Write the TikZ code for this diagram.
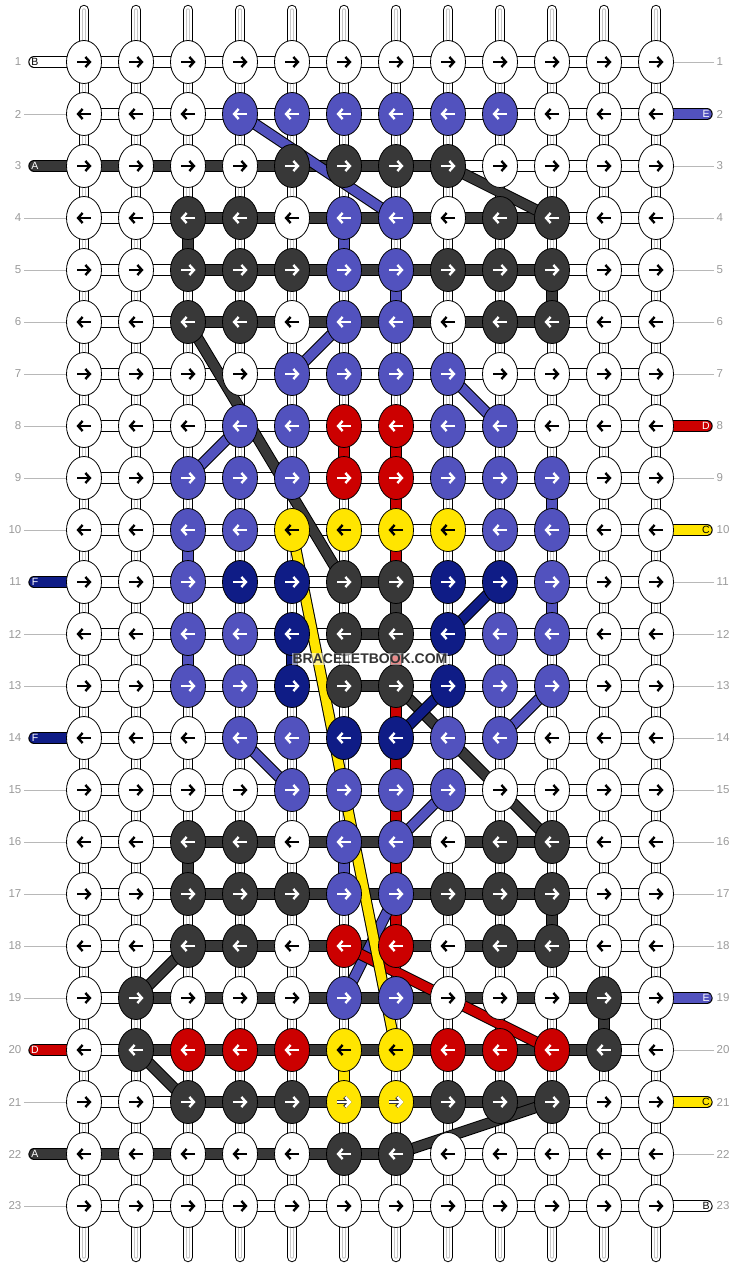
\documentclass[tikz,border=0pt]{standalone}
\usepackage{fontspec}
\setmainfont{Liberation Sans}
\usetikzlibrary{shapes.geometric,arrows.meta}
\definecolor{kblue}{HTML}{5252BE}
\definecolor{kdark}{HTML}{383838}
\definecolor{kred}{HTML}{CC0000}
\definecolor{kyellow}{HTML}{FFE500}
\definecolor{knavy}{HTML}{0F1C86}
\definecolor{rownum}{HTML}{9A9A9A}
\pgfdeclarelayer{strings}
\pgfdeclarelayer{cords}
\pgfdeclarelayer{cross}
\pgfsetlayers{strings,cords,cross,main}
\tikzset{
  arrcol/.initial=black,
  arredge/.initial=none,
  arrline/.style={line width=2.4pt, -{Straight Barb[length=4.5pt,width=10pt]}},
  knot/.style={ellipse, draw=black, line width=0.8pt, minimum width=35pt,
    minimum height=43pt, inner sep=0pt},
  kW/.style={knot, fill=white, arrcol=black},
  kB/.style={knot, fill=kblue, arrcol=white},
  kD/.style={knot, fill=kdark, arrcol=white},
  kR/.style={knot, fill=kred, arrcol=white},
  kY/.style={knot, fill=kyellow, arrcol=black},
  kYw/.style={knot, fill=kyellow, arrcol=white, arredge=black!80},
  kN/.style={knot, fill=knavy, arrcol=white},
  toR/.style={path picture={
    \draw[arrline, draw=\pgfkeysvalueof{/tikz/arredge}, line width=3.6pt]
      ([xshift=-7pt]path picture bounding box.center) -- ([xshift=7.5pt]path picture bounding box.center);
    \draw[arrline, draw=\pgfkeysvalueof{/tikz/arrcol}]
      ([xshift=-7pt]path picture bounding box.center) -- ([xshift=7.5pt]path picture bounding box.center);}},
  toL/.style={path picture={
    \draw[arrline, draw=\pgfkeysvalueof{/tikz/arredge}, line width=3.6pt]
      ([xshift=7pt]path picture bounding box.center) -- ([xshift=-7.5pt]path picture bounding box.center);
    \draw[arrline, draw=\pgfkeysvalueof{/tikz/arrcol}]
      ([xshift=7pt]path picture bounding box.center) -- ([xshift=-7.5pt]path picture bounding box.center);}},
  vstr/.style={draw=black, line width=10.4pt, line cap=round,
    postaction={draw=white, line width=8.4pt, line cap=round},
    postaction={draw=black!22, line width=3.2pt, line cap=round},
    postaction={draw=white, line width=1.2pt, line cap=round}},
  hstr/.style={draw=black, line width=11.4pt, postaction={draw=white, line width=9.4pt}},
  cord/.style={draw=black, line width=11.4pt, postaction={draw=#1, line width=9.4pt}},
  pill/.style={draw=black, line width=11.4pt, line cap=round,
    postaction={draw=#1, line width=9.4pt, line cap=round}},
  plet/.style={font=\fontsize{10.5}{10.5}\selectfont, inner sep=0pt, text=#1},
  rnum/.style={font=\fontsize{11.5}{12}\selectfont, text=rownum, inner sep=2.5pt},
  tick/.style={draw=black!28, line width=0.8pt},
  wmark/.style={font=\bfseries\fontsize{14}{14}\selectfont, text=black!80,
    fill=white, fill opacity=0.55, text opacity=1, inner sep=1pt}
}
\begin{document}
\begin{tikzpicture}[x=1pt,y=-1pt]
  \useasboundingbox (0,0) rectangle (740,1268);
  % knots, one line per row
  \foreach \rw/\dir/\cols in {
    1/toR/{kW,kW,kW,kW,kW,kW,kW,kW,kW,kW,kW,kW},
    2/toL/{kW,kW,kW,kB,kB,kB,kB,kB,kB,kW,kW,kW},
    3/toR/{kW,kW,kW,kW,kD,kD,kD,kD,kW,kW,kW,kW},
    4/toL/{kW,kW,kD,kD,kW,kB,kB,kW,kD,kD,kW,kW},
    5/toR/{kW,kW,kD,kD,kD,kB,kB,kD,kD,kD,kW,kW},
    6/toL/{kW,kW,kD,kD,kW,kB,kB,kW,kD,kD,kW,kW},
    7/toR/{kW,kW,kW,kW,kB,kB,kB,kB,kW,kW,kW,kW},
    8/toL/{kW,kW,kW,kB,kB,kR,kR,kB,kB,kW,kW,kW},
    9/toR/{kW,kW,kB,kB,kB,kR,kR,kB,kB,kB,kW,kW},
    10/toL/{kW,kW,kB,kB,kY,kY,kY,kY,kB,kB,kW,kW},
    11/toR/{kW,kW,kB,kN,kN,kD,kD,kN,kN,kB,kW,kW},
    12/toL/{kW,kW,kB,kB,kN,kD,kD,kN,kB,kB,kW,kW},
    13/toR/{kW,kW,kB,kB,kN,kD,kD,kN,kB,kB,kW,kW},
    14/toL/{kW,kW,kW,kB,kB,kN,kN,kB,kB,kW,kW,kW},
    15/toR/{kW,kW,kW,kW,kB,kB,kB,kB,kW,kW,kW,kW},
    16/toL/{kW,kW,kD,kD,kW,kB,kB,kW,kD,kD,kW,kW},
    17/toR/{kW,kW,kD,kD,kD,kB,kB,kD,kD,kD,kW,kW},
    18/toL/{kW,kW,kD,kD,kW,kR,kR,kW,kD,kD,kW,kW},
    19/toR/{kW,kD,kW,kW,kW,kB,kB,kW,kW,kW,kD,kW},
    20/toL/{kW,kD,kR,kR,kR,kY,kY,kR,kR,kR,kD,kW},
    21/toR/{kW,kW,kD,kD,kD,kYw,kYw,kD,kD,kD,kW,kW},
    22/toL/{kW,kW,kW,kW,kW,kD,kD,kW,kW,kW,kW,kW},
    23/toR/{kW,kW,kW,kW,kW,kW,kW,kW,kW,kW,kW,kW}}
    \foreach \k [count=\c] in \cols
      \node[\k,\dir] (\rw-\c) at ({84+52*(\c-1)},{62+52*(\rw-1)}) {};
  % row numbers
  \foreach \rw in {1,...,23} {
    \node[rnum, anchor=east] (nL-\rw) at (24,{62+52*(\rw-1)}) {\rw};
    \node[rnum, anchor=west] (nR-\rw) at (714,{62+52*(\rw-1)}) {\rw};
  }
  \node[wmark] (wm) at (370,659) {BRACELETBOOK.COM};
  % white base strings
  \begin{pgfonlayer}{strings}
    \foreach \c in {1,...,12} {
      \coordinate (t-\c) at ({84+52*(\c-1)},10);
      \coordinate (u-\c) at ({84+52*(\c-1)},1257);
      \draw[vstr] (t-\c) -- (u-\c);
    }
    \foreach \rw in {1,...,23}
      \draw[hstr] (\rw-1.center) -- (\rw-12.center);
  \end{pgfonlayer}
  % coloured runs, pills and ticks
  \begin{pgfonlayer}{cords}
    \foreach \rw in {2,4,5,6,7,8,9,10,12,13,15,16,17,18,19,21,23}
      \draw[tick] (nL-\rw) -- (\rw-1);
    \foreach \rw in {1,3,4,5,6,7,9,11,12,13,14,15,16,17,18,20,22}
      \draw[tick] (nR-\rw) -- (\rw-12);
    \coordinate (pL-1) at (34,62);
    \coordinate (pL-3) at (34,166);
    \coordinate (pL-11) at (34,582);
    \coordinate (pL-14) at (34,738);
    \coordinate (pL-20) at (34,1050);
    \coordinate (pL-22) at (34,1154);
    \coordinate (pR-2) at (707,114);
    \coordinate (pR-8) at (707,426);
    \coordinate (pR-10) at (707,530);
    \coordinate (pR-19) at (707,998);
    \coordinate (pR-21) at (707,1102);
    \coordinate (pR-23) at (707,1206);
    \draw[pill=white] (pL-1) -- (1-1.center);
    \draw[pill=kdark] (pL-3) -- (3-1.center);
    \draw[pill=knavy] (pL-11) -- (11-1.center);
    \draw[pill=knavy] (pL-14) -- (14-1.center);
    \draw[pill=kred] (pL-20) -- (20-1.center);
    \draw[pill=kdark] (pL-22) -- (22-1.center);
    \draw[pill=kblue] (pR-2) -- (2-12.center);
    \draw[pill=kred] (pR-8) -- (8-12.center);
    \draw[pill=kyellow] (pR-10) -- (10-12.center);
    \draw[pill=kblue] (pR-19) -- (19-12.center);
    \draw[pill=kyellow] (pR-21) -- (21-12.center);
    \draw[pill=white] (pR-23) -- (23-12.center);
    % dark runs
    \draw[cord=kdark] (3-1.center) -- (3-8.center);
    \draw[cord=kdark] (4-3.center) -- (4-10.center);
    \draw[cord=kdark] (5-3.center) -- (5-10.center);
    \draw[cord=kdark] (6-3.center) -- (6-10.center);
    \draw[cord=kdark] (11-6.center) -- (11-7.center);
    \draw[cord=kdark] (12-6.center) -- (12-7.center);
    \draw[cord=kdark] (13-6.center) -- (13-7.center);
    \draw[cord=kdark] (16-3.center) -- (16-10.center);
    \draw[cord=kdark] (17-3.center) -- (17-10.center);
    \draw[cord=kdark] (18-3.center) -- (18-10.center);
    \draw[cord=kdark] (19-2.center) -- (19-11.center);
    \draw[cord=kdark] (20-2.center) -- (20-11.center);
    \draw[cord=kdark] (21-3.center) -- (21-10.center);
    \draw[cord=kdark] (22-1.center) -- (22-7.center);
    \draw[cord=kdark] (4-3.center) -- (5-3.center);
    \draw[cord=kdark] (5-10.center) -- (6-10.center);
    \draw[cord=kdark] (11-7.center) -- (12-7.center);
    \draw[cord=kdark] (16-3.center) -- (17-3.center);
    \draw[cord=kdark] (17-10.center) -- (18-10.center);
    \draw[cord=kdark] (19-11.center) -- (20-11.center);
    % blue runs
    \draw[cord=kblue] (4-6.center) -- (5-6.center);
    \draw[cord=kblue] (5-7.center) -- (6-7.center);
    \draw[cord=kblue] (9-10.center) -- (10-10.center);
    \draw[cord=kblue] (10-3.center) -- (11-3.center);
    \draw[cord=kblue] (11-10.center) -- (12-10.center);
    \draw[cord=kblue] (12-3.center) -- (13-3.center);
    \draw[cord=kblue] (16-6.center) -- (17-6.center);
    % red, navy and yellow runs
    \draw[cord=kred] (8-6.center) -- (9-6.center);
    \draw[cord=kred] (8-7.center) -- (11-7.center);
    \draw[cord=kred] (12-7.center) -- (18-7.center);
    \draw[cord=knavy] (12-5.center) -- (13-5.center);
    \draw[cord=kyellow] (20-6.center) -- (21-6.center);
  \end{pgfonlayer}
  \node[plet=black] (lB-1) at (35,62) {B};
  \node[plet=white] (lA-3) at (35,166) {A};
  \node[plet=white] (lF-11) at (35,582) {F};
  \node[plet=white] (lF-14) at (35,738) {F};
  \node[plet=white] (lD-20) at (35,1050) {D};
  \node[plet=white] (lA-22) at (35,1154) {A};
  \node[plet=white] (lE-2) at (706,114) {E};
  \node[plet=white] (lD-8) at (706,426) {D};
  \node[plet=black] (lC-10) at (706,530) {C};
  \node[plet=white] (lE-19) at (706,998) {E};
  \node[plet=black] (lC-21) at (706,1102) {C};
  \node[plet=black] (lB-23) at (706,1206) {B};
  % threads crossing between rows
  \begin{pgfonlayer}{cross}
    \draw[cord=kblue] (2-4.center) -- (4-7.center);
    \draw[cord=kdark] (3-8.center) -- (4-10.center);
    \draw[cord=kdark] (6-3.center) -- (11-6.center);
    \draw[cord=kblue] (6-6.center) -- (7-5.center);
    \draw[cord=kblue] (7-8.center) -- (8-9.center);
    \draw[cord=kblue] (8-4.center) -- (9-3.center);
    \draw[cord=knavy] (11-9.center) -- (12-8.center);
    \draw[cord=kdark] (13-7.center) -- (16-10.center);
    \draw[cord=knavy] (13-8.center) -- (14-7.center);
    \draw[cord=kblue] (13-10.center) -- (14-9.center);
    \draw[cord=kblue] (14-4.center) -- (15-5.center);
    \draw[cord=kblue] (15-8.center) -- (16-7.center);
    \draw[cord=kblue] (17-7.center) -- (19-6.center);
    \draw[cord=kdark] (18-3.center) -- (19-2.center);
    \draw[cord=kred] (18-6.center) -- (20-10.center);
    \draw[cord=kdark] (20-2.center) -- (21-3.center);
    \draw[cord=kdark] (21-10.center) -- (22-7.center);
    \draw[cord=kyellow] (10-5.center) -- (20-7.center);
  \end{pgfonlayer}
\end{tikzpicture}
\end{document}
